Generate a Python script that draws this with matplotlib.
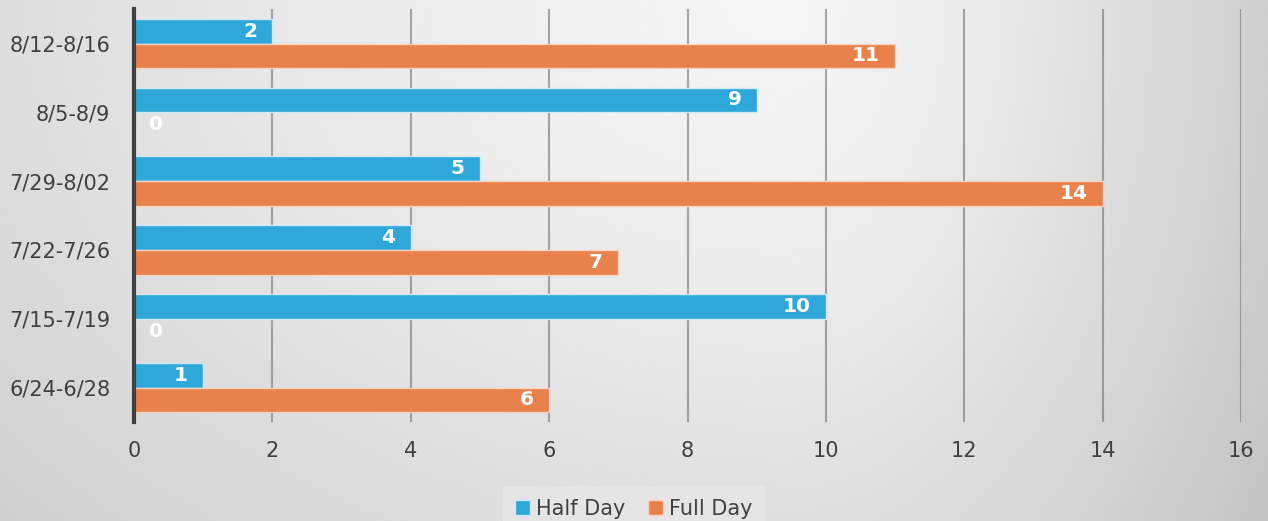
import numpy as np
import matplotlib.pyplot as plt
from matplotlib.patches import Patch

# ---------- DATA ----------
weeks = ["6/24-6/28", "7/15-7/19", "7/22-7/26", "7/29-8/02", "8/5-8/9", "8/12-8/16"]
half_day = [1, 10, 4, 5, 9, 2]
full_day = [6, 0, 7, 14, 0, 11]
x_ticks = [0, 2, 4, 6, 8, 10, 12, 14, 16]

BLUE = "#2EA8D9"
ORANGE = "#E8814B"
TEXT = "#404040"

W, H = 1268, 521
fig = plt.figure(figsize=(W / 100, H / 100), dpi=100)

# ---------- GRADIENT BACKGROUND ----------
bg = fig.add_axes([0, 0, 1, 1], zorder=0)
px, py = np.meshgrid(np.linspace(0, W, 400), np.linspace(0, H, 200))
dx = px - 0.62 * W
dx = np.where(dx < 0, dx * 0.7, dx * 1.6)
dy = H - py
r = np.sqrt(dx ** 2 + dy ** 2) / 950
shade = 0.96 - 0.2 * np.clip(r, 0, 1) ** 1.4
bg.imshow(shade, cmap="gray", vmin=0, vmax=1, origin="lower",
          extent=[0, 1, 0, 1], aspect="auto", interpolation="bicubic")
bg.axis("off")

# ---------- BARS ----------
ax = fig.add_axes([0.1057, 0.190, 0.8730, 0.7925], zorder=1)
ax.patch.set_alpha(0)

y = np.arange(len(weeks))
h = 0.36
ax.barh(y + h / 2, half_day, height=h, color=BLUE, edgecolor="#CFEAF5", linewidth=1, zorder=3)
ax.barh(y - h / 2, full_day, height=h, color=ORANGE, edgecolor="#F6D3C0", linewidth=1, zorder=3)

for values, offset in [(half_day, h / 2), (full_day, -h / 2)]:
    for yi, v in zip(y, values):
        if v == 0:
            ax.annotate(str(v), (0, yi + offset), xytext=(11, 0), textcoords="offset points",
                        ha="left", va="center", color="white", fontsize=14.5, fontweight="bold", zorder=4)
        else:
            ax.annotate(str(v), (v, yi + offset), xytext=(-11, 0), textcoords="offset points",
                        ha="right", va="center", color="white", fontsize=14.5, fontweight="bold", zorder=4)

ax.set_xlim(0, 16)
ax.set_ylim(-0.5, 5.5)
ax.set_xticks(x_ticks)
ax.set_yticks(y)
ax.set_yticklabels(weeks)
ax.tick_params(axis="both", length=0, labelsize=15, colors=TEXT)
ax.tick_params(axis="x", pad=14)
ax.tick_params(axis="y", pad=17)

ax.grid(axis="x", color="#707070", alpha=0.6, linewidth=1.5, zorder=1)
ax.set_axisbelow(True)
for side in ["top", "right", "bottom"]:
    ax.spines[side].set_visible(False)
ax.spines["left"].set_color("#404040")
ax.spines["left"].set_linewidth(3)
ax.spines["left"].set_zorder(5)

# ---------- LEGEND ----------
handles = [Patch(facecolor=BLUE, edgecolor="#CFEAF5", label="Half Day"),
           Patch(facecolor=ORANGE, edgecolor="#F6D3C0", label="Full Day")]
leg = fig.legend(handles=handles, loc="lower center", bbox_to_anchor=(0.5, -0.04), ncol=2,
                 fontsize=15, frameon=True, fancybox=False, handlelength=0.7, handleheight=0.7,
                 handletextpad=0.3, columnspacing=1.1, borderpad=0.6)
leg.get_frame().set_facecolor("#E6E6E6")
leg.get_frame().set_edgecolor("none")
leg.get_frame().set_alpha(0.95)
for t in leg.get_texts():
    t.set_color(TEXT)

fig.savefig("out.png", dpi=100)
